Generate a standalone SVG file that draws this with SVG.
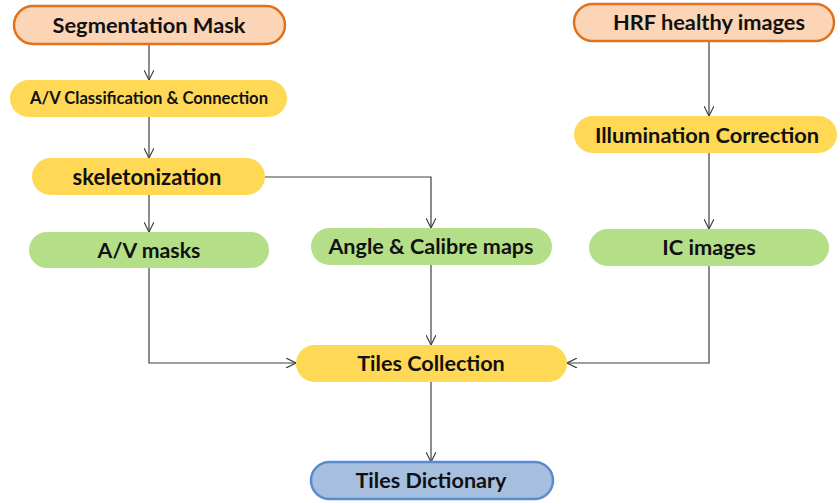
<svg xmlns="http://www.w3.org/2000/svg" width="837" height="504" viewBox="0 0 837 504">
  <defs>
    <marker id="arrow" viewBox="0 0 10 10" refX="10" refY="5" markerWidth="10" markerHeight="10" markerUnits="userSpaceOnUse" orient="auto">
      <path d="M0,0 L10,5 L0,10" fill="none" stroke="#404040" stroke-width="1.2"/>
    </marker>
    <style>
      .src { fill: #FBD5B5; stroke: #E2711D; stroke-width: 2.5; }
      .proc { fill: #FFD955; }
      .out { fill: #B4DE88; }
      .end { fill: #A6BFDE; stroke: #5A8AD0; stroke-width: 2.5; }
      .lbl { font-family: Lato, "Open Sans", "Liberation Sans", sans-serif; font-weight: bold; fill: #111; text-anchor: middle; dominant-baseline: central; }
      .conn { fill: none; stroke: #404040; stroke-width: 1.2; marker-end: url(#arrow); }
    </style>
  </defs>
  <rect width="837" height="504" fill="#ffffff"/>

  <g id="connectors">
    <path class="conn" d="M149,44 V80"/>
    <path class="conn" d="M149,117 V158"/>
    <path class="conn" d="M149,195 V232"/>
    <path class="conn" d="M265,177 H431 V228"/>
    <path class="conn" d="M709,41 V116"/>
    <path class="conn" d="M709,153 V229"/>
    <path class="conn" d="M149,268 V363 H296"/>
    <path class="conn" d="M431,265 V345"/>
    <path class="conn" d="M709,266 V363 H567"/>
    <path class="conn" d="M431,382 V462"/>
  </g>

  <g id="segmentation-mask">
    <rect class="src" x="14" y="6" width="271" height="38" rx="19"/>
    <text class="lbl" x="149" y="24" font-size="21.8">Segmentation Mask</text>
  </g>
  <g id="av-classification">
    <rect class="proc" x="10" y="80" width="277" height="37" rx="18.5"/>
    <text class="lbl" x="149" y="98" font-size="16.6">A/V Classification &amp; Connection</text>
  </g>
  <g id="skeletonization">
    <rect class="proc" x="32" y="158" width="233" height="37" rx="18.5"/>
    <text class="lbl" x="147" y="176" font-size="22">skeletonization</text>
  </g>
  <g id="av-masks">
    <rect class="out" x="29" y="232" width="240" height="36" rx="18"/>
    <text class="lbl" x="149" y="250" font-size="21.3">A/V masks</text>
  </g>
  <g id="angle-calibre">
    <rect class="out" x="311" y="228" width="241" height="37" rx="18.5"/>
    <text class="lbl" x="431" y="246" font-size="21.6">Angle &amp; Calibre maps</text>
  </g>
  <g id="hrf-healthy">
    <rect class="src" x="574" y="4" width="260" height="37" rx="18.5"/>
    <text class="lbl" x="709" y="21" font-size="21.8">HRF healthy images</text>
  </g>
  <g id="illumination-correction">
    <rect class="proc" x="574" y="116" width="263" height="37" rx="18.5"/>
    <text class="lbl" x="707" y="134" font-size="21.8">Illumination Correction</text>
  </g>
  <g id="ic-images">
    <rect class="out" x="589" y="229" width="240" height="37" rx="18.5"/>
    <text class="lbl" x="709" y="246" font-size="21.8">IC images</text>
  </g>
  <g id="tiles-collection">
    <rect class="proc" x="296" y="345" width="271" height="37" rx="18.5"/>
    <text class="lbl" x="431" y="363" font-size="21.6">Tiles Collection</text>
  </g>
  <g id="tiles-dictionary">
    <rect class="end" x="311" y="462" width="242" height="37" rx="18.5"/>
    <text class="lbl" x="431" y="480" font-size="21.6">Tiles Dictionary</text>
  </g>
</svg>
